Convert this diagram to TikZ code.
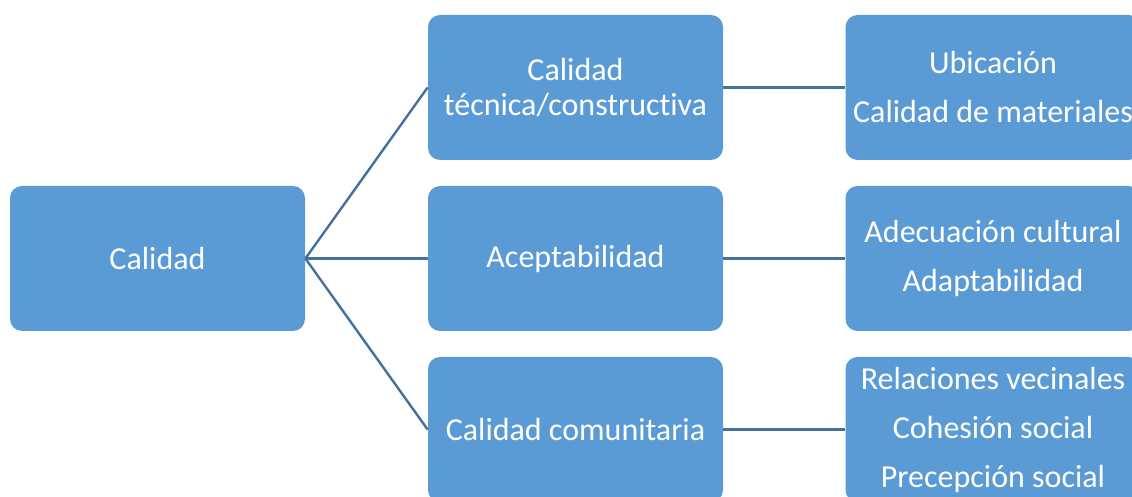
\documentclass[tikz,border=0pt]{standalone}
\usepackage{fontspec}
\setmainfont{Carlito}[Ligatures=NoCommon]
\usetikzlibrary{positioning}

\definecolor{boxblue}{RGB}{91,155,213}
\definecolor{lineblue}{RGB}{65,113,156}

\begin{document}
\begin{tikzpicture}[x=0.5pt, y=-0.5pt,
    box/.style={fill=boxblue, text=white, rounded corners=6pt, align=center,
        minimum width=147.5pt, minimum height=72.5pt, inner sep=0pt,
        font=\fontsize{16}{17.5}\selectfont},
    link/.style={draw=lineblue, line width=1.2pt}]
    \useasboundingbox (0,0) rectangle (1132,497);
    \clip (0,0) rectangle (1132,497);

    % Boxes
    \node[box] (calidad) at (157.5,258.5) {Calidad};
    \node[box] (tecnica) at (575.5,87.5) {Calidad\\t\'ecnica/constructiva};
    \node[box] (acept) at (575.5,258.5) {Aceptabilidad};
    \node[box] (comun) at (575.5,429.5) {Calidad comunitaria};
    \node[box] (ubic) at (993,87.5) {Ubicaci\'on\\[7pt]Calidad de materiales};
    \node[box] (adec) at (993,258.5) {Adecuaci\'on cultural\\[7pt]Adaptabilidad};
    \node[box] (rel) at (993,429.5) {Relaciones vecinales\\[7pt]Cohesi\'on social\\[7pt]Precepci\'on social};

    % Lines
    \draw[link] (calidad.east) -- (tecnica.west);
    \draw[link] (calidad.east) -- (acept.west);
    \draw[link] (calidad.east) -- (comun.west);
    \draw[link] (tecnica.east) -- (ubic.west);
    \draw[link] (acept.east) -- (adec.west);
    \draw[link] (comun.east) -- (rel.west);
\end{tikzpicture}
\end{document}
